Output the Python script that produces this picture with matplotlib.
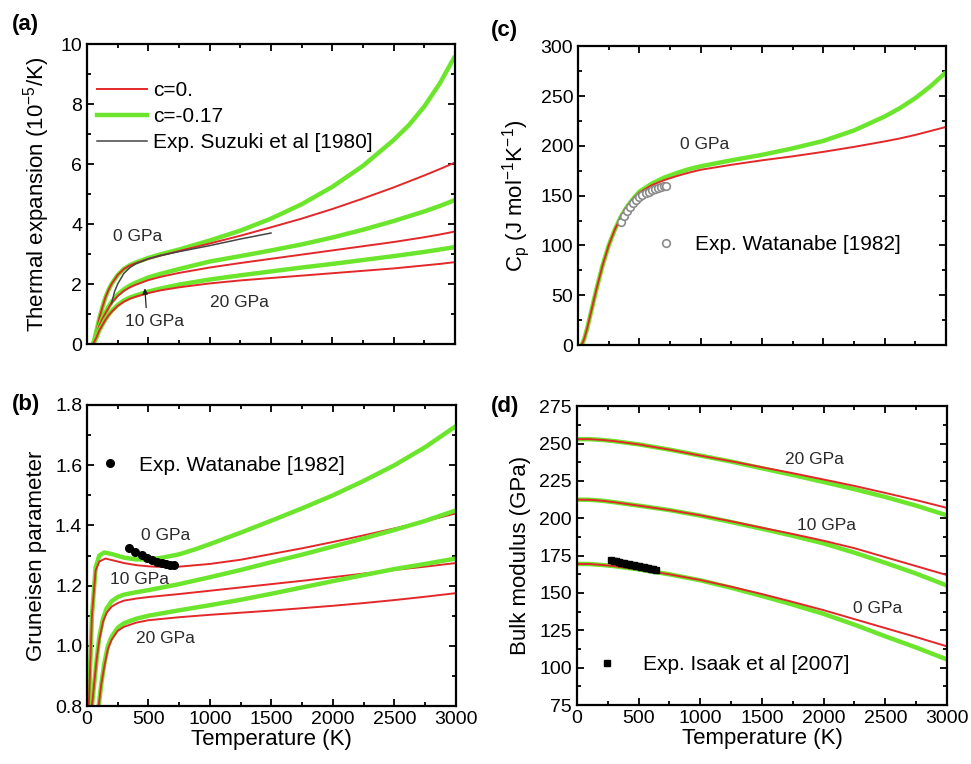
import numpy as np
import matplotlib
matplotlib.use("Agg")
import matplotlib.pyplot as plt
from matplotlib.ticker import MultipleLocator, FormatStrFormatter

plt.rcParams['font.family'] = ['Liberation Sans', 'DejaVu Sans']
plt.rcParams['mathtext.default'] = 'regular'

RED = '#e3282a'
GREEN = '#6ce62c'
TXT = '#2a2a2a'

# ---------------- (a) thermal expansion (10^-5/K) ----------------
T_a = [50, 75, 100, 125, 150, 175, 200, 250, 300, 350, 400, 500, 600, 750, 1000, 1250, 1500, 1750, 2000,
       2250, 2500, 2625, 2750, 2875, 3000]
a0_green = [0, 0.4, 0.85, 1.22, 1.55, 1.8, 2.0, 2.3, 2.5, 2.63, 2.72, 2.87, 2.99, 3.15, 3.45, 3.78, 4.18, 4.66,
            5.24, 5.94, 6.8, 7.3, 7.92, 8.68, 9.6]
a0_red = [0, 0.4, 0.85, 1.22, 1.55, 1.8, 2.0, 2.3, 2.5, 2.62, 2.7, 2.84, 2.95, 3.1, 3.35, 3.61, 3.89, 4.18,
          4.5, 4.85, 5.22, 5.42, 5.62, 5.83, 6.05]
a10_green = [0, 0.25, 0.6, 0.85, 1.05, 1.24, 1.4, 1.65, 1.82, 1.95, 2.05, 2.22, 2.34, 2.5, 2.75, 2.93, 3.12,
             3.32, 3.55, 3.81, 4.1, 4.26, 4.42, 4.6, 4.8]
a10_red = [0, 0.25, 0.6, 0.83, 1.02, 1.2, 1.37, 1.6, 1.77, 1.89, 1.98, 2.13, 2.24, 2.37, 2.55, 2.7, 2.84,
           2.98, 3.12, 3.26, 3.4, 3.48, 3.56, 3.65, 3.75]
a20_green = [0, 0.2, 0.45, 0.64, 0.82, 0.97, 1.1, 1.3, 1.45, 1.55, 1.62, 1.75, 1.85, 1.98, 2.15, 2.29, 2.42,
             2.55, 2.67, 2.8, 2.93, 3.0, 3.07, 3.15, 3.23]
a20_red = [0, 0.2, 0.45, 0.63, 0.8, 0.95, 1.07, 1.27, 1.41, 1.51, 1.58, 1.7, 1.79, 1.89, 2.02, 2.12, 2.2,
           2.28, 2.36, 2.44, 2.52, 2.57, 2.62, 2.67, 2.73]
T_suzuki = [200, 225, 250, 300, 350, 400, 500, 600, 750, 1000, 1250, 1500]
suzuki = [1.35, 1.75, 2.0, 2.35, 2.55, 2.68, 2.84, 2.95, 3.08, 3.28, 3.5, 3.7]

# ---------------- (b) Gruneisen parameter ----------------
T_b0g = [15, 40, 70, 100, 140, 200, 300, 400, 500, 600, 750, 875, 1000, 1250, 1500, 1750, 2000, 2250, 2500,
         2750, 3000]
b0_green = [0.8, 1.1, 1.26, 1.3, 1.31, 1.305, 1.293, 1.287, 1.287, 1.292, 1.304, 1.32, 1.338, 1.376, 1.416,
            1.457, 1.5, 1.548, 1.6, 1.66, 1.73]
T_b0r = [15, 40, 70, 100, 150, 200, 300, 400, 500, 600, 750, 1000, 1250, 1500, 1750, 2000, 2250, 2500, 2750,
         3000]
b0_red = [0.8, 1.1, 1.25, 1.28, 1.29, 1.285, 1.275, 1.268, 1.264, 1.262, 1.263, 1.272, 1.286, 1.305, 1.324,
          1.345, 1.367, 1.39, 1.414, 1.44]
T_b10 = [40, 60, 80, 100, 130, 160, 200, 250, 300, 400, 500, 750, 1000, 1250, 1500, 1750, 2000, 2250, 2500,
         2750, 3000]
b10_green = [0.8, 0.88, 0.96, 1.03, 1.09, 1.125, 1.148, 1.162, 1.17, 1.178, 1.185, 1.205, 1.228, 1.252, 1.278,
             1.303, 1.33, 1.357, 1.385, 1.415, 1.45]
b10_red = [0.8, 0.88, 0.96, 1.02, 1.08, 1.11, 1.13, 1.142, 1.15, 1.157, 1.162, 1.172, 1.183, 1.194, 1.205,
           1.216, 1.228, 1.24, 1.252, 1.263, 1.275]
T_b20 = [95, 115, 140, 170, 200, 250, 300, 400, 500, 750, 1000, 1250, 1500, 1750, 2000, 2250, 2500, 2750, 3000]
b20_green = [0.8, 0.87, 0.94, 1.0, 1.03, 1.06, 1.075, 1.09, 1.1, 1.118, 1.135, 1.153, 1.173, 1.194, 1.215,
             1.235, 1.255, 1.272, 1.29]
b20_red = [0.8, 0.87, 0.93, 0.99, 1.02, 1.05, 1.063, 1.077, 1.085, 1.095, 1.103, 1.11, 1.117, 1.125, 1.133,
           1.142, 1.152, 1.163, 1.175]
T_wat_g = [342, 391, 448, 488, 529, 570, 610, 643, 676, 708]
wat_gamma = [1.326, 1.313, 1.302, 1.293, 1.285, 1.28, 1.274, 1.271, 1.269, 1.268]

# ---------------- (c) heat capacity Cp ----------------
T_c = [30, 50, 75, 100, 125, 150, 175, 200, 250, 300, 350, 400, 450, 500, 600, 700, 800, 900, 1000, 1250, 1500,
       1750, 2000, 2250, 2500, 2625, 2750, 2875, 3000]
cp_green = [0, 6, 17, 30, 43, 56, 68, 80, 100, 116, 129, 139, 147, 154, 162, 168, 172.5, 176.5, 179.5, 185.5,
            191, 197.5, 205, 215.5, 229.5, 238, 248, 260, 274]
cp_red = [0, 6, 17, 30, 43, 56, 68, 80, 100, 116, 129, 139, 147, 153, 160.5, 165.5, 169.5, 173, 176, 181,
          185.5, 189.5, 194, 199, 204.5, 207.5, 211, 215, 219]
T_wat_cp = [350, 375, 400, 425, 450, 475, 500, 525, 550, 575, 600, 625, 650, 675, 700, 715]
wat_cp = [124, 130, 135, 139, 143, 146, 148.5, 150.5, 152.5, 154, 155.5, 156.5, 157.5, 158.5, 159.5, 160]

# ---------------- (d) bulk modulus (GPa) ----------------
T_d = [0, 100, 200, 300, 500, 750, 1000, 1250, 1500, 1750, 2000, 2250, 2500, 2750, 3000]
k20_green = [253, 253, 252.5, 251.7, 249.5, 246, 242, 238, 233.5, 229, 224.3, 219.5, 214.3, 208.5, 202]
k20_red = [253, 253, 252.5, 251.7, 249.5, 246, 242, 238.2, 234.2, 230.2, 226, 221.7, 217, 212.2, 207]
k10_green = [212.5, 212.4, 211.8, 210.8, 208.5, 205.5, 201.8, 197.5, 193, 188.3, 183.2, 177, 170.2, 163, 155]
k10_red = [212.5, 212.4, 211.8, 210.8, 208.5, 205.5, 202, 198, 193.7, 189.5, 185, 180, 174, 168, 162]
k0_green = [169.5, 169.4, 168.8, 168, 165.8, 162.5, 158.5, 153.5, 148, 142.2, 136, 128.8, 121, 113.5, 105.5]
k0_red = [169.5, 169.4, 168.8, 168, 165.8, 162.5, 158.7, 154.2, 149.3, 144, 138.5, 132.5, 126.5, 120.5, 114.3]
T_isaak = [280, 300, 320, 340, 360, 380, 400, 420, 440, 460, 480, 500, 520, 540, 560, 580, 600, 620, 640]
isaak = [171.8, 171.4, 171.1, 170.7, 170.4, 170.0, 169.7, 169.3, 169.0, 168.6, 168.3, 167.9, 167.6, 167.2,
         166.9, 166.5, 166.2, 165.8, 165.5]

fig = plt.figure(figsize=(9.71, 7.64), dpi=100)
ax_a = fig.add_axes([0.0896, 0.5497, 0.379, 0.3927])
ax_c = fig.add_axes([0.5953, 0.5484, 0.379, 0.391])
ax_b = fig.add_axes([0.0896, 0.0759, 0.380, 0.394])
ax_d = fig.add_axes([0.5942, 0.0772, 0.381, 0.391])


def style(ax, ymin, ymax, ymaj, ymin_step, xlabels=True):
    ax.set_xlim(0, 3000)
    ax.set_ylim(ymin, ymax)
    ax.xaxis.set_major_locator(MultipleLocator(500))
    ax.xaxis.set_minor_locator(MultipleLocator(250))
    ax.yaxis.set_major_locator(MultipleLocator(ymaj))
    ax.yaxis.set_minor_locator(MultipleLocator(ymin_step))
    ax.tick_params(which='both', direction='in', top=True, right=True, width=1.3, labelsize=14)
    ax.tick_params(which='major', length=5)
    ax.tick_params(which='minor', length=3)
    for s in ax.spines.values():
        s.set_linewidth(1.6)
    if xlabels:
        ax.set_xlabel('Temperature (K)', fontsize=16, labelpad=1)
    else:
        ax.tick_params(labelbottom=False)


def pair(ax, T, green, red, Tr=None):
    # red (c=0.) drawn over the thicker green (c=-0.17)
    ax.plot(T, green, color=GREEN, lw=3.2, solid_capstyle='butt', solid_joinstyle='round')
    ax.plot(T if Tr is None else Tr, red, color=RED, lw=1.4, solid_joinstyle='round')


# (a)
pair(ax_a, T_a, a0_green, a0_red)
pair(ax_a, T_a, a10_green, a10_red)
pair(ax_a, T_a, a20_green, a20_red)
ax_a.plot(T_suzuki, suzuki, color='#444444', lw=1.1)
h1, = ax_a.plot([], [], color=RED, lw=1.4, label='c=0.')
h2, = ax_a.plot([], [], color=GREEN, lw=3.2, label='c=-0.17')
h3, = ax_a.plot([], [], color='#444444', lw=1.1, label='Exp. Suzuki et al [1980]')
ax_a.legend(handles=[h1, h2, h3], loc='upper left', bbox_to_anchor=(0.027, 0.877), frameon=False,
            fontsize=15, borderpad=0, borderaxespad=0, handlelength=2.4, handletextpad=0.3, labelspacing=0.35)
ax_a.text(410, 3.57, '0 GPa', fontsize=12.5, color=TXT, ha='center', va='center')
ax_a.text(550, 0.75, '10 GPa', fontsize=12.5, color=TXT, ha='center', va='center')
ax_a.text(1245, 1.37, '20 GPa', fontsize=12.5, color=TXT, ha='center', va='center')
ax_a.annotate('', xy=(470, 1.95), xytext=(484, 1.12),
              arrowprops=dict(arrowstyle='-|>', color='#222222', lw=0.9, mutation_scale=8))
style(ax_a, 0, 10, 2, 1, xlabels=False)
ax_a.set_ylabel('Thermal expansion (10$^{-5}$/K)', fontsize=16, labelpad=6)

# (b)
pair(ax_b, T_b0g, b0_green, b0_red, Tr=T_b0r)
pair(ax_b, T_b10, b10_green, b10_red)
pair(ax_b, T_b20, b20_green, b20_red)
ax_b.plot(T_wat_g, wat_gamma, 'o', color='black', ms=5.5, label='Exp. Watanabe [1982]')
ax_b.legend(loc='center left', bbox_to_anchor=(0.034, 0.80), frameon=False, fontsize=15,
            borderpad=0, borderaxespad=0, handlelength=1.0, handletextpad=0.88)
ax_b.text(640, 1.368, '0 GPa', fontsize=12.5, color=TXT, ha='center', va='center')
ax_b.text(430, 1.221, '10 GPa', fontsize=12.5, color=TXT, ha='center', va='center')
ax_b.text(640, 1.025, '20 GPa', fontsize=12.5, color=TXT, ha='center', va='center')
style(ax_b, 0.8, 1.8, 0.2, 0.1)
ax_b.yaxis.set_major_formatter(FormatStrFormatter('%.1f'))
ax_b.set_ylabel('Gruneisen parameter', fontsize=16, labelpad=6)

# (c)
pair(ax_c, T_c, cp_green, cp_red)
ax_c.plot(T_wat_cp, wat_cp, 'o', mfc='white', mec='#8a8a8a', mew=1.2, ms=5.5, label='Exp. Watanabe [1982]')
ax_c.legend(loc='center left', bbox_to_anchor=(0.211, 0.337), frameon=False, fontsize=15,
            borderpad=0, borderaxespad=0, handlelength=1.0, handletextpad=0.88)
ax_c.text(1035, 201.5, '0 GPa', fontsize=12.5, color=TXT, ha='center', va='center')
style(ax_c, 0, 300, 50, 25, xlabels=False)
ax_c.set_ylabel('C$_p$ (J mol$^{-1}$K$^{-1}$)', fontsize=16, labelpad=6)

# (d)
pair(ax_d, T_d, k20_green, k20_red)
pair(ax_d, T_d, k10_green, k10_red)
pair(ax_d, T_d, k0_green, k0_red)
ax_d.plot(T_isaak, isaak, 's', color='black', ms=4.5, label='Exp. Isaak et al [2007]')
ax_d.legend(loc='center left', bbox_to_anchor=(0.054, 0.136), frameon=False, fontsize=15,
            borderpad=0, borderaxespad=0, handlelength=1.0, handletextpad=1.2)
ax_d.text(1925, 239.3, '20 GPa', fontsize=12.5, color=TXT, ha='center', va='center')
ax_d.text(2025, 195.4, '10 GPa', fontsize=12.5, color=TXT, ha='center', va='center')
ax_d.text(2435, 139.7, '0 GPa', fontsize=12.5, color=TXT, ha='center', va='center')
style(ax_d, 75, 275, 25, 12.5)
ax_d.set_ylabel('Bulk modulus (GPa)', fontsize=16, labelpad=6)

# panel letters
fig.text(0.012, 0.968, '(a)', fontsize=16, fontweight='bold', va='center')
fig.text(0.506, 0.960, '(c)', fontsize=16, fontweight='bold', va='center')
fig.text(0.012, 0.470, '(b)', fontsize=16, fontweight='bold', va='center')
fig.text(0.506, 0.468, '(d)', fontsize=16, fontweight='bold', va='center')

fig.savefig('out.png', dpi=100)
